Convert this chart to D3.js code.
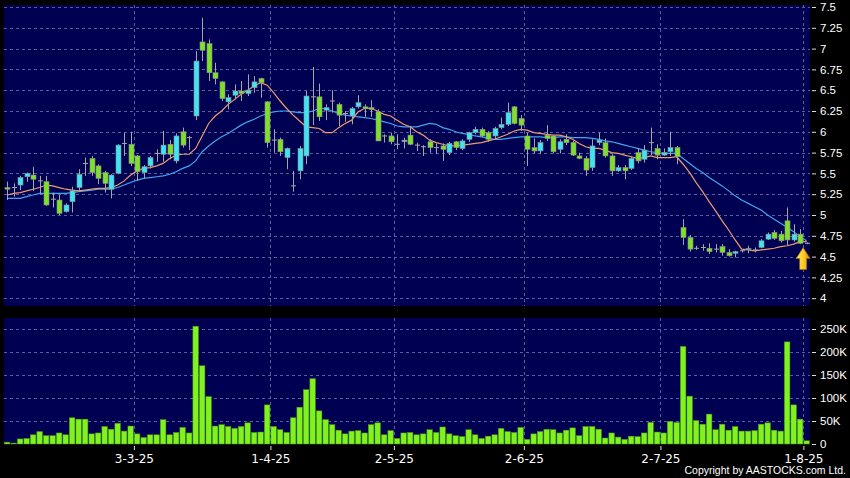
<!DOCTYPE html>
<html><head><meta charset="utf-8">
<script src="https://cdn.jsdelivr.net/npm/d3@7"></script>
<style>html,body{margin:0;padding:0;background:#000;}svg{display:block;}</style>
</head><body><svg id="chart" width="850" height="478"></svg>
<script>
// ---- data (trading days 3 Feb 2025 .. 1 Aug 2025, index 0..123) ----
const openP = [5.33,5.33,5.36,5.46,5.48,5.41,5.40,5.19,5.18,5.04,
5.16,5.33,5.62,5.68,5.59,5.51,5.31,5.50,5.86,5.85,
5.71,5.51,5.59,5.74,5.73,5.85,5.65,6.00,5.93,6.19,
7.08,7.06,6.71,6.60,6.36,6.44,6.49,6.46,6.53,6.64,
6.36,5.90,5.91,5.69,5.35,5.53,5.71,6.42,6.42,6.26,
6.37,6.33,6.22,6.19,6.30,6.30,6.29,6.24,5.95,5.95,
5.85,5.88,5.96,5.84,5.82,5.88,5.81,5.83,5.75,5.88,
5.80,5.91,5.99,6.03,5.99,5.95,6.05,6.09,6.30,6.16,
5.95,5.81,5.77,5.96,5.95,5.79,5.91,5.87,5.71,5.68,
5.57,5.87,5.87,5.71,5.53,5.57,5.56,5.75,5.67,5.87,
5.80,5.72,5.76,5.81,4.85,4.73,4.60,4.61,4.60,4.59,
4.62,4.55,4.54,4.57,4.59,4.58,4.61,4.71,4.79,4.77,
4.93,4.70,4.77,4.66];
const highP = [5.40,5.38,5.47,5.51,5.58,5.47,5.47,5.27,5.24,5.14,
5.34,5.55,5.69,5.71,5.61,5.53,5.49,5.85,5.99,6.00,
5.72,5.60,5.71,5.79,6.01,5.90,5.98,6.05,5.95,6.97,
7.37,7.11,6.83,6.61,6.45,6.57,6.61,6.69,6.67,6.65,
6.37,6.03,5.93,5.81,5.53,5.83,6.49,6.78,6.58,6.33,
6.50,6.35,6.25,6.30,6.44,6.33,6.38,6.27,5.97,5.99,
5.97,5.93,6.07,5.87,5.84,5.91,5.86,5.86,5.88,5.89,
5.91,6.00,6.06,6.05,6.01,6.06,6.17,6.35,6.31,6.20,
5.99,5.92,5.90,6.08,5.96,5.91,5.97,5.89,5.75,5.71,
5.91,5.99,5.92,5.73,5.60,5.60,5.70,5.80,5.84,6.05,
5.85,5.80,6.00,5.83,4.95,4.76,4.63,4.65,4.66,4.65,
4.65,4.59,4.57,4.59,4.63,4.61,4.71,4.79,4.82,4.81,
5.09,4.89,4.83,4.67];
const lowP = [5.18,5.22,5.30,5.40,5.29,5.25,5.11,5.09,5.00,5.03,
5.03,5.29,5.47,5.47,5.37,5.27,5.20,5.49,5.71,5.59,
5.41,5.44,5.56,5.64,5.64,5.67,5.62,5.81,5.78,6.14,
6.85,6.61,6.57,6.37,6.27,6.39,6.37,6.43,6.47,6.41,
5.81,5.75,5.71,5.55,5.28,5.43,5.61,6.08,6.13,6.14,
6.23,6.07,6.12,6.09,6.28,6.18,6.18,5.89,5.87,5.85,
5.79,5.80,5.84,5.77,5.71,5.75,5.73,5.65,5.72,5.78,
5.78,5.88,5.97,5.93,5.88,5.91,6.03,6.07,6.09,6.01,
5.59,5.74,5.73,5.89,5.74,5.74,5.84,5.71,5.67,5.47,
5.53,5.84,5.69,5.47,5.52,5.43,5.54,5.62,5.63,5.72,
5.67,5.71,5.71,5.61,4.64,4.56,4.58,4.57,4.53,4.55,
4.51,4.50,4.49,4.55,4.54,4.55,4.60,4.70,4.70,4.67,
4.63,4.68,4.65,4.65];
const closeP = [5.31,5.33,5.45,5.50,5.43,5.41,5.12,5.19,5.02,5.12,
5.29,5.49,5.62,5.51,5.44,5.38,5.48,5.84,5.86,5.62,
5.52,5.58,5.69,5.74,5.84,5.73,5.95,5.84,5.93,6.85,
6.98,6.71,6.64,6.40,6.41,6.49,6.46,6.50,6.60,6.59,
5.87,5.90,5.76,5.80,5.35,5.80,6.43,6.42,6.18,6.29,
6.37,6.20,6.22,6.28,6.35,6.28,6.27,5.89,5.95,5.88,
5.85,5.90,5.85,5.84,5.82,5.81,5.81,5.79,5.86,5.81,
5.89,5.99,6.03,5.95,5.91,6.04,6.09,6.23,6.10,6.08,
5.79,5.77,5.87,5.92,5.76,5.88,5.87,5.72,5.68,5.54,
5.83,5.90,5.71,5.53,5.57,5.53,5.68,5.65,5.78,5.87,
5.72,5.75,5.81,5.70,4.73,4.59,4.60,4.61,4.56,4.59,
4.55,4.51,4.56,4.57,4.60,4.58,4.69,4.77,4.72,4.69,
4.70,4.77,4.66,4.66];
const volumeK = [4,2,11,12,20,27,18,18,24,20,
57,54,54,22,24,38,32,45,28,39,
22,14,20,20,53,20,25,36,24,256,
170,103,39,42,38,34,38,46,25,26,
85,38,31,25,57,80,118,142,72,53,
42,30,22,28,29,24,42,46,20,29,
12,24,25,20,22,31,25,37,22,18,
16,31,20,12,17,20,34,27,25,36,
10,22,27,32,31,24,30,35,18,38,
38,32,13,24,15,10,17,16,24,47,
26,24,49,47,212,104,51,43,65,31,
43,30,38,28,28,29,43,46,30,28,
222,85,54,7];
const ma10 = [5.24,5.26,5.27,5.29,5.31,5.33,5.36,5.35,5.33,5.31,
5.30,5.29,5.30,5.31,5.32,5.32,5.33,5.36,5.41,5.48,
5.53,5.56,5.57,5.59,5.62,5.68,5.72,5.73,5.73,5.80,
5.95,6.10,6.19,6.25,6.33,6.39,6.45,6.50,6.55,6.59,
6.56,6.47,6.37,6.28,6.20,6.13,6.06,6.05,6.04,5.99,
5.99,6.05,6.10,6.14,6.24,6.28,6.28,6.25,6.21,6.19,
6.14,6.09,6.06,6.00,5.96,5.90,5.87,5.85,5.83,5.83,
5.84,5.85,5.86,5.87,5.89,5.91,5.94,5.97,6.01,6.03,
6.02,5.99,5.98,5.97,5.96,5.96,5.94,5.91,5.86,5.82,
5.80,5.80,5.78,5.75,5.74,5.72,5.70,5.68,5.69,5.71,
5.69,5.69,5.69,5.70,5.61,5.51,5.39,5.28,5.16,5.05,
4.93,4.82,4.70,4.59,4.58,4.57,4.58,4.59,4.60,4.62,
4.63,4.65,4.68,4.68];
const ma20 = [5.20,5.20,5.20,5.22,5.24,5.26,5.26,5.26,5.26,5.26,
5.27,5.28,5.29,5.30,5.31,5.31,5.31,5.33,5.36,5.39,
5.42,5.44,5.45,5.46,5.47,5.49,5.52,5.56,5.59,5.65,
5.76,5.83,5.89,5.94,5.98,6.03,6.08,6.12,6.15,6.19,
6.22,6.24,6.25,6.25,6.24,6.23,6.23,6.25,6.28,6.28,
6.25,6.22,6.20,6.19,6.18,6.17,6.16,6.14,6.12,6.10,
6.07,6.06,6.06,6.06,6.08,6.10,6.09,6.05,6.03,6.00,
5.98,5.97,5.95,5.94,5.92,5.91,5.91,5.92,5.93,5.94,
5.94,5.94,5.94,5.93,5.93,5.94,5.94,5.93,5.93,5.93,
5.92,5.91,5.89,5.88,5.86,5.84,5.82,5.80,5.78,5.76,
5.75,5.74,5.74,5.74,5.68,5.62,5.56,5.51,5.45,5.40,
5.35,5.29,5.23,5.18,5.14,5.10,5.06,5.00,4.95,4.90,
4.85,4.80,4.74,4.69];
const dateTickIndex = [20,41,60,80,101,123];
const dateTickLabels = ["3-3-25","1-4-25","2-5-25","2-6-25","2-7-25","1-8-25"];
const priceTicks = [4,4.25,4.5,4.75,5,5.25,5.5,5.75,6,6.25,6.5,6.75,7,7.25,7.5];
const volTicks = [0,50000,100000,150000,200000,250000];
const volTickLabels = ["0","50K","100K","150K","200K","250K"];

// ---- drawing ----
const N = closeP.length;
const W = 850, H = 478;
const NAVY = "#000052", GRID = "#5c5c9a";
const UP = "#3fe3f2", DOWN = "#7fe02a", WICK = "#a6a6a6";
const svg = d3.select("#chart");
svg.append("rect").attr("width", W).attr("height", H).attr("fill", "#000");

const plotL = 4, plotR = 810;
const x = d3.scaleLinear().domain([0, N]).range([3.9, 809.9]);
const step = x(1) - x(0);
const yP = d3.scaleLinear().domain([4, 7.5]).range([298.2, 7]);
const yV = d3.scaleLinear().domain([0, 250000]).range([444, 329]);

// panels
svg.append("rect").attr("x", plotL).attr("y", 5).attr("width", plotR - plotL).attr("height", 301).attr("fill", NAVY);
svg.append("rect").attr("x", plotL).attr("y", 318).attr("width", plotR - plotL).attr("height", 126).attr("fill", NAVY);

const grid = svg.append("g").attr("stroke", GRID).attr("stroke-width", 1).attr("stroke-dasharray", "3,3").attr("shape-rendering", "crispEdges");
priceTicks.forEach(v => grid.append("line").attr("x1", plotL).attr("x2", plotR).attr("y1", Math.round(yP(v)) + 0.5).attr("y2", Math.round(yP(v)) + 0.5));
volTicks.slice(1).forEach(v => grid.append("line").attr("x1", plotL).attr("x2", plotR).attr("y1", Math.round(yV(v)) + 0.5).attr("y2", Math.round(yV(v)) + 0.5));
dateTickIndex.forEach(i => {
  const xx = Math.round(x(i)) + 0.5;
  grid.append("line").attr("x1", xx).attr("x2", xx).attr("y1", 5).attr("y2", 306);
  grid.append("line").attr("x1", xx).attr("x2", xx).attr("y1", 318).attr("y2", 444);
});

// volume bars
svg.append("g").selectAll("rect").data(volumeK).join("rect")
  .attr("x", (d, i) => x(i) + 0.5)
  .attr("width", step - 1)
  .attr("y", d => yV(d * 1000))
  .attr("height", d => yV(0) - yV(d * 1000))
  .attr("fill", "#80f21e")
  .attr("stroke", "#4f9c14").attr("stroke-width", 0.5);

// moving averages
const line = d3.line().x((d, i) => x(i + 0.5)).y(d => yP(d));
svg.append("path").datum(ma20).attr("d", line).attr("fill", "none").attr("stroke", "#3fa6ee").attr("stroke-width", 1.2);
svg.append("path").datum(ma10).attr("d", line).attr("fill", "none").attr("stroke", "#ee9a6e").attr("stroke-width", 1.2);

// candles
const candles = svg.append("g");
d3.range(N).forEach(i => {
  const cx = Math.round(x(i + 0.5)) + 0.5;
  const o = openP[i], c = closeP[i];
  candles.append("line").attr("x1", cx).attr("x2", cx)
    .attr("y1", yP(highP[i])).attr("y2", yP(lowP[i]))
    .attr("stroke", WICK).attr("stroke-width", 1);
  const top = yP(Math.max(o, c)), bot = yP(Math.min(o, c));
  const hgt = Math.max(1, bot - top);
  const col = c > o ? UP : (c < o ? DOWN : WICK);
  candles.append("rect").attr("x", cx - 2.5).attr("width", 5)
    .attr("y", c === o ? top - 0.5 : top).attr("height", hgt)
    .attr("fill", col).attr("stroke", c === o ? "none" : "#8c8c8c").attr("stroke-width", 0.6);
});

// arrow marker under last candle
const defs = svg.append("defs");
const grad = defs.append("linearGradient").attr("id", "ag").attr("x1", 0).attr("x2", 1).attr("y1", 0).attr("y2", 0);
grad.append("stop").attr("offset", "0%").attr("stop-color", "#fff06a");
grad.append("stop").attr("offset", "55%").attr("stop-color", "#ffc81e");
grad.append("stop").attr("offset", "100%").attr("stop-color", "#d08400");
const ax = x(N - 0.5) - 3.5, ay = yP(lowP[N - 1]) + 3.5;
svg.append("path")
  .attr("d", `M${ax},${ay} L${ax + 7},${ay + 11} L${ax + 3.5},${ay + 11} L${ax + 3.5},${ay + 22} L${ax - 3.5},${ay + 22} L${ax - 3.5},${ay + 11} L${ax - 7},${ay + 11} Z`)
  .attr("fill", "url(#ag)").attr("stroke", "#a86a00").attr("stroke-width", 0.6);

// right axes
const axP = svg.append("g").attr("transform", "translate(812,0)")
  .call(d3.axisRight(yP).tickValues(priceTicks).tickFormat(d => String(d)).tickSize(4).tickPadding(4));
const axV = svg.append("g").attr("transform", "translate(812,0)")
  .call(d3.axisRight(yV).tickValues(volTicks).tickFormat((d, k) => volTickLabels[k]).tickSize(4).tickPadding(4));
[axP, axV].forEach(g => {
  g.select(".domain").remove();
  g.selectAll("line").attr("stroke", "#ddd");
  g.selectAll("text").attr("fill", "#fff").style("font-family", "'Liberation Sans', Arial, sans-serif").style("font-size", "11.5px");
});

// bottom axis
const axX = svg.append("g").attr("transform", "translate(0,446)")
  .call(d3.axisBottom(x).tickValues(dateTickIndex).tickFormat((d, k) => dateTickLabels[k]).tickSize(4).tickPadding(4));
axX.select(".domain").remove();
axX.selectAll("line").attr("stroke", "#ddd");
axX.selectAll("text").attr("fill", "#fff").style("font-family", "'DejaVu Sans', sans-serif").style("font-size", "12px");

// copyright
svg.append("text").attr("x", 846).attr("y", 474).attr("text-anchor", "end")
  .attr("fill", "#fff").style("font-family", "'Liberation Sans', Arial, sans-serif").style("font-size", "10.5px")
  .text("Copyright by AASTOCKS.com Ltd.");
</script>
</body></html>
